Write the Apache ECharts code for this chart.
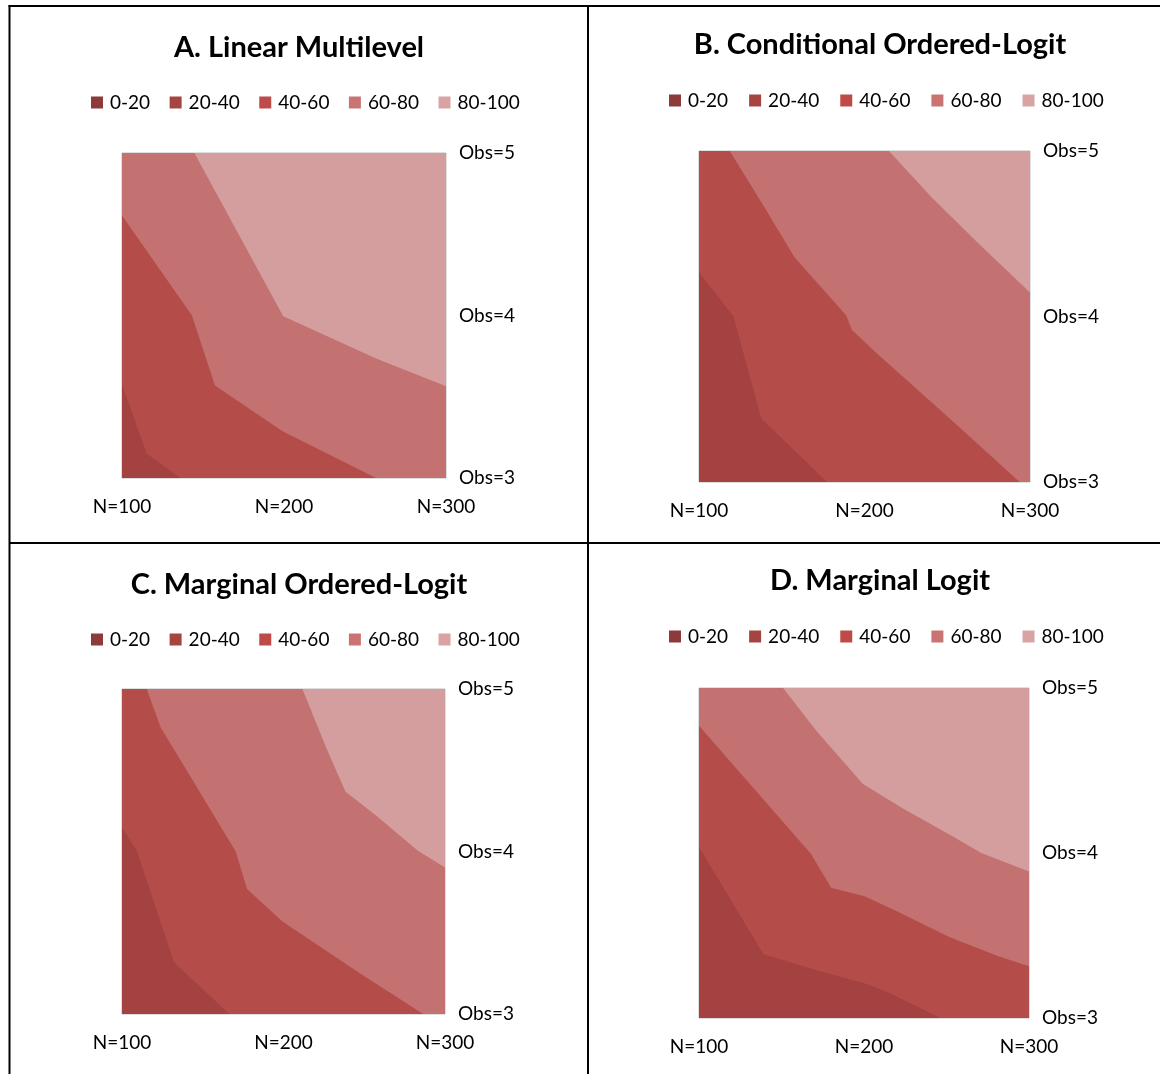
<!DOCTYPE html>
<html>
<head>
<meta charset="utf-8">
<script src="https://cdn.jsdelivr.net/npm/echarts@6/dist/echarts.min.js"></script>
<style>
html,body{margin:0;padding:0;background:#fff;}
#c{width:1160px;height:1074px;}
</style>
</head>
<body>
<div id="c"></div>
<script>
// ---------- data ----------
const bands = ['0-20', '20-40', '40-60', '60-80', '80-100'];
const nTicks = [100, 200, 300];
const obsTicks = [3, 4, 5];
const panelTitles = ['A. Linear Multilevel', 'B. Conditional Ordered-Logit', 'C. Marginal Ordered-Logit', 'D. Marginal Logit'];

// boundary polylines [N, Obs] : lower edge of each band (band region lies toward top-right)
const A_b40 = [[100, 3.576], [115.3, 3.149], [136.1, 3]];
const A_b60 = [[100, 4.616], [143.1, 4.002], [157.4, 3.569], [199.1, 3.288], [256.9, 3]];
const A_b80 = [[144.7, 5], [199.5, 3.996], [256.9, 3.736], [300, 3.565]];

const B_b40 = [[100, 4.268], [120.8, 4.002], [137.6, 3.384], [177.4, 3]];
const B_b60 = [[118.6, 5], [138.7, 4.673], [157.7, 4.358], [189.0, 4.006], [192.4, 3.918], [206.9, 3.782], [256.2, 3.342], [293.7, 3]];
const B_b80 = [[214.8, 5], [240.5, 4.72], [270.0, 4.43], [300, 4.145]];

const C_b40 = [[100, 4.147], [109.3, 4.0], [132.1, 3.319], [166.4, 3]];
const C_b60 = [[115.3, 5], [123.9, 4.765], [170.4, 4.0], [177.4, 3.769], [199.4, 3.570], [248.2, 3.245], [286.5, 3]];
const C_b80 = [[211.7, 5], [227.3, 4.618], [238.4, 4.367], [257.5, 4.220], [283.0, 4.006], [300, 3.901]];

const D_b40 = [[100, 4.037], [139.1, 3.386], [173.4, 3.283], [200.3, 3.211], [213.8, 3.159], [246.4, 3]];
const D_b60 = [[100, 4.771], [167.8, 3.996], [180.1, 3.789], [200.3, 3.738], [218.3, 3.655], [252.0, 3.490], [281.1, 3.376], [300, 3.314]];
const D_b80 = [[151.0, 5], [171.2, 4.740], [199.2, 4.419], [222.8, 4.275], [252.0, 4.110], [271.1, 4.0], [300, 3.888]];

const panelBoundaries = [
  [null, null, A_b40, A_b60, A_b80],
  [null, null, B_b40, B_b60, B_b80],
  [null, null, C_b40, C_b60, C_b80],
  [null, null, D_b40, D_b60, D_b80]
];

// ---------- style ----------
const plotColors = ['#8E3B3B', '#A34240', '#B44D49', '#C47171', '#D49E9E'];
const legendColors = ['#8C3A3A', '#A64442', '#BE4B48', '#C97373', '#D9A3A3'];
const FONT = 'Lato';

const layout = [
  {grid: {left: 122, top: 153, width: 324, height: 325}, titleX: 299, titleY: 33, legendLeft: 91, legendTop: 93, gap: 19.5},
  {grid: {left: 699, top: 151, width: 331, height: 331}, titleX: 880, titleY: 30, legendLeft: 669, legendTop: 91, gap: 21},
  {grid: {left: 122, top: 689, width: 323, height: 325}, titleX: 299, titleY: 570, legendLeft: 91, legendTop: 630, gap: 19.5},
  {grid: {left: 699, top: 688, width: 330, height: 330}, titleX: 880, titleY: 566, legendLeft: 669, legendTop: 627, gap: 21}
];

const xMin = nTicks[0], xMax = nTicks[nTicks.length - 1];
const yMin = obsTicks[0], yMax = obsTicks[obsTicks.length - 1];

function regionPolygon(boundary) {
  if (boundary === undefined) return [];
  if (boundary === null) return [[xMin, yMin], [xMax, yMin], [xMax, yMax], [xMin, yMax]];
  const pts = boundary.slice();
  const last = pts[pts.length - 1];
  if (last[1] === yMin && last[0] !== xMax) pts.push([xMax, yMin]);
  pts.push([xMax, yMax]);
  if (pts[0][0] === xMin) pts.push([xMin, yMax]);
  return pts;
}

const grids = [], xAxes = [], yAxes = [], titles = [], legends = [], series = [];
layout.forEach((L, p) => {
  grids.push(Object.assign({show: true, borderColor: '#BFBFBF', borderWidth: 1, backgroundColor: 'transparent'}, L.grid));
  xAxes.push({
    type: 'value', gridIndex: p, min: xMin, max: xMax, interval: 100,
    axisLine: {show: false}, axisTick: {show: false}, splitLine: {show: false},
    axisLabel: {formatter: v => 'N=' + v, fontFamily: FONT, fontSize: 19, color: '#000', margin: 19}
  });
  yAxes.push({
    type: 'value', gridIndex: p, min: yMin, max: yMax, interval: 1, position: 'right',
    axisLine: {show: false}, axisTick: {show: false}, splitLine: {show: false},
    axisLabel: {formatter: v => 'Obs=' + v, fontFamily: FONT, fontSize: 19, color: '#000', margin: 13}
  });
  titles.push({
    text: panelTitles[p], left: L.titleX, top: L.titleY, textAlign: 'center', padding: 0,
    textStyle: {fontFamily: FONT, fontWeight: 'bold', fontSize: 29, color: '#000'}
  });
  legends.push({
    left: L.legendLeft, top: L.legendTop, padding: 0, itemWidth: 12, itemHeight: 12, itemGap: L.gap,
    icon: 'rect', selectedMode: false,
    textStyle: {fontFamily: FONT, fontSize: 19, color: '#000', padding: [0, 0, 0, 2]},
    data: bands.map((b, i) => ({name: b, itemStyle: {color: legendColors[i]}}))
  });
  bands.forEach((b, i) => {
    const boundary = i === 0 ? undefined : panelBoundaries[p][i];
    const poly = regionPolygon(boundary);
    series.push({
      type: 'custom', name: b, xAxisIndex: p, yAxisIndex: p, clip: true,
      itemStyle: {color: plotColors[i]},
      data: poly,
      encode: {x: 0, y: 1},
      silent: true,
      renderItem: function (params, api) {
        if (params.dataIndex !== 0) return null;
        const pts = poly.map(pt => api.coord(pt));
        return {type: 'polygon', shape: {points: pts}, style: {fill: plotColors[i], stroke: null}};
      }
    });
  });
});

const lineStyle = {stroke: '#000', lineWidth: 2};
const chart = echarts.init(document.getElementById('c'), null, {renderer: 'canvas'});
chart.setOption({
  animation: false,
  backgroundColor: '#fff',
  title: titles,
  legend: legends,
  grid: grids,
  xAxis: xAxes,
  yAxis: yAxes,
  series: series,
  graphic: [
    {type: 'line', shape: {x1: 8.5, y1: 6, x2: 1160, y2: 6}, style: lineStyle, z: 100},
    {type: 'line', shape: {x1: 9.5, y1: 5, x2: 9.5, y2: 1074}, style: lineStyle, z: 100},
    {type: 'line', shape: {x1: 588, y1: 5, x2: 588, y2: 1074}, style: lineStyle, z: 100},
    {type: 'line', shape: {x1: 9, y1: 543, x2: 1160, y2: 543}, style: lineStyle, z: 100}
  ]
});
</script>
</body>
</html>
